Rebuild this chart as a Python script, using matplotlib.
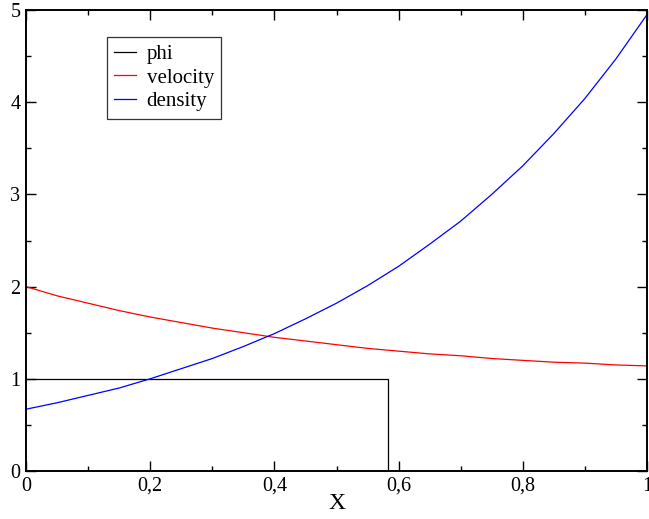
import numpy as np
import matplotlib
matplotlib.use('Agg')
import matplotlib.pyplot as plt
from matplotlib.ticker import MultipleLocator, FuncFormatter

# values
x = [0.00, 0.05, 0.10, 0.15, 0.20, 0.25, 0.30, 0.35, 0.40, 0.45, 0.50,
     0.55, 0.60, 0.65, 0.70, 0.75, 0.80, 0.85, 0.90, 0.95, 1.00]
velocity = [2.00, 1.90, 1.82, 1.74, 1.67, 1.61, 1.55, 1.50, 1.45, 1.41, 1.37,
            1.33, 1.30, 1.27, 1.25, 1.22, 1.20, 1.18, 1.17, 1.15, 1.14]
density = [0.67, 0.74, 0.82, 0.90, 1.00, 1.11, 1.22, 1.35, 1.49, 1.65, 1.82,
           2.01, 2.22, 2.46, 2.71, 3.00, 3.31, 3.66, 4.04, 4.47, 4.95]
phi_x = [0.0, 0.583, 0.583, 1.0]
phi = [1.0, 1.0, 0.0, 0.0]

plt.rcParams['font.family'] = 'Liberation Serif'

fig = plt.figure(figsize=(6.49, 5.19), dpi=100)
ax = fig.add_axes([26/649, 1-471/519, (647-26)/649, (471-10)/519])

ax.plot(phi_x, phi, color='black', lw=0.9, label='phi')
ax.plot(x, velocity, color='red', lw=0.9, label='velocity')
ax.plot(x, density, color='blue', lw=0.9, label='density')

ax.set_xlim(0, 1)
ax.set_ylim(0, 5)
ax.xaxis.set_major_locator(MultipleLocator(0.2))
ax.xaxis.set_minor_locator(MultipleLocator(0.1))
ax.yaxis.set_major_locator(MultipleLocator(1))
ax.yaxis.set_minor_locator(MultipleLocator(0.5))
ax.xaxis.set_major_formatter(FuncFormatter(lambda v, p: ('%g' % round(v, 2)).replace('.', ',')))
ax.yaxis.set_major_formatter(FuncFormatter(lambda v, p: '%g' % v))

ax.tick_params(which='both', direction='in', top=True, right=True, labelsize=14.5, width=1.0)
ax.tick_params(which='major', length=7.5)
ax.tick_params(which='minor', length=3.8)
ax.tick_params(axis='x', pad=4)
ax.tick_params(axis='y', pad=4)
for s in ax.spines.values():
    s.set_linewidth(1.4)

ax.set_xlabel('X', fontsize=17, labelpad=-2)

leg = ax.legend(loc='upper left', bbox_to_anchor=((107-26)/621, (471-37)/461),
                fontsize=15, frameon=True, fancybox=False, handlelength=1.05,
                handletextpad=0.5, borderpad=0.35, labelspacing=0.2,
                borderaxespad=0)
leg.get_frame().set_edgecolor('black')
leg.get_frame().set_linewidth(0.9)

fig.savefig('out.png', dpi=100)
